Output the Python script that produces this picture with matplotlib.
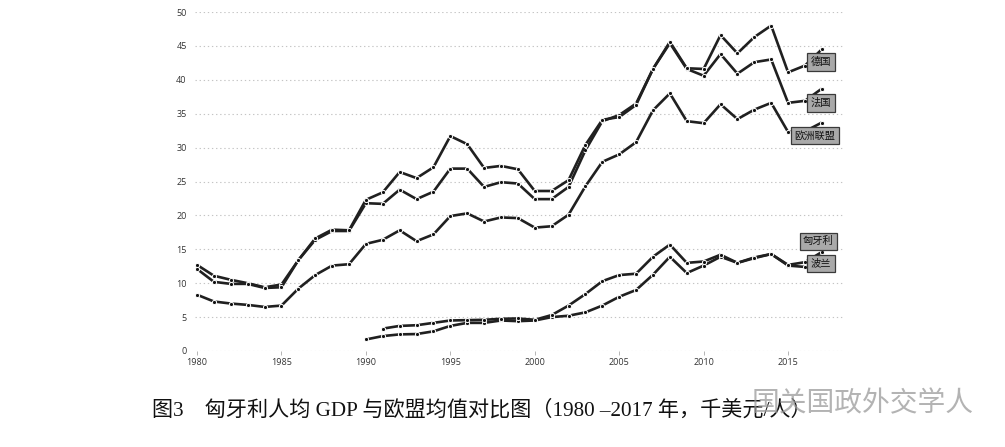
import matplotlib
matplotlib.use('Agg')
import matplotlib.pyplot as plt

# GDP per capita, thousand USD
years = list(range(1980, 2018))
germany = [12.1, 10.2, 9.9, 9.9, 9.3, 9.4, 13.4, 16.6, 17.9, 17.8,
           22.3, 23.4, 26.4, 25.5, 27.1, 31.7, 30.5, 27.0, 27.3, 26.8,
           23.6, 23.6, 25.2, 30.4, 34.1, 34.5, 36.3, 41.6, 45.6, 41.7,
           41.6, 46.6, 43.9, 46.3, 48.0, 41.1, 42.1, 44.5]
france = [12.7, 11.1, 10.5, 10.0, 9.4, 9.8, 13.4, 16.4, 17.7, 17.7,
          21.8, 21.7, 23.8, 22.4, 23.5, 26.9, 26.9, 24.2, 24.9, 24.7,
          22.4, 22.4, 24.2, 29.6, 33.9, 34.8, 36.5, 41.6, 45.4, 41.6,
          40.6, 43.8, 40.9, 42.6, 43.0, 36.6, 36.9, 38.7]
eu = [8.3, 7.3, 7.0, 6.8, 6.5, 6.7, 9.2, 11.2, 12.6, 12.8,
      15.8, 16.4, 17.8, 16.2, 17.2, 19.9, 20.3, 19.1, 19.7, 19.6,
      18.2, 18.4, 20.1, 24.3, 27.9, 29.0, 30.8, 35.5, 38.0, 33.9,
      33.6, 36.4, 34.2, 35.6, 36.6, 32.3, 32.4, 33.7]
hungary_years = list(range(1991, 2018))
hungary = [3.3, 3.7, 3.8, 4.15, 4.5, 4.55, 4.6, 4.75, 4.8,
           4.6, 5.3, 6.7, 8.4, 10.3, 11.2, 11.4, 13.9, 15.7, 13.0,
           13.2, 14.2, 13.0, 13.7, 14.3, 12.7, 13.1, 14.6]
poland_years = list(range(1990, 2018))
poland = [1.7, 2.2, 2.45, 2.5, 2.9, 3.7, 4.15, 4.15, 4.5, 4.4,
          4.5, 5.0, 5.2, 5.7, 6.7, 8.0, 9.0, 11.25, 13.9, 11.5,
          12.6, 13.9, 13.0, 13.8, 14.3, 12.6, 12.4, 13.9]

series = [
    (years, france, '法国'),
    (years, germany, '德国'),
    (years, eu, '欧洲联盟'),
    (poland_years, poland, '波兰'),
    (hungary_years, hungary, '匈牙利'),
]

# label box centres (x year, y value)
label_pos = {
    '德国': (2016.95, 42.6),
    '法国': (2016.95, 36.6),
    '欧洲联盟': (2016.6, 31.8),
    '匈牙利': (2016.8, 16.2),
    '波兰': (2016.95, 12.9),
}

fig = plt.figure(figsize=(10.05, 4.47), dpi=100, facecolor='white')
ax = fig.add_axes([195 / 1005, 96 / 447, 650 / 1005, 339 / 447])
ax.set_xlim(1979.88, 2018.37)
ax.set_ylim(0, 50)

line_color = '#202020'
for xs, ys, name in series:
    ax.plot(xs, ys, color=line_color, linewidth=1.9, marker='o', markersize=3.0,
            markerfacecolor='#111111', markeredgecolor='white', markeredgewidth=0.7,
            clip_on=False, zorder=3, solid_capstyle='butt')

for name, (lx, ly) in label_pos.items():
    ax.text(lx, ly, name, ha='center', va='center', fontsize=7.4, color='#111111',
            family=['Noto Sans CJK SC', 'DejaVu Sans'], zorder=5,
            bbox=dict(boxstyle='square,pad=0.35', facecolor='#a9a9a9',
                      edgecolor='#3a3a3a', linewidth=0.9))

ax.set_yticks(range(0, 51, 5))
ax.set_xticks(range(1980, 2016, 5))
ax.grid(True, axis='y', color='#c4c4c4', linestyle=(0, (1.2, 2.5)), linewidth=0.8)
ax.grid(False, axis='x')
for side in ['top', 'right', 'left', 'bottom']:
    ax.spines[side].set_visible(False)
ax.tick_params(axis='y', length=0, pad=6, labelsize=6.5, labelcolor='#333333')
ax.tick_params(axis='x', length=3, width=0.6, color='#aaaaaa', pad=2,
               labelsize=6.5, labelcolor='#333333')
for lab in ax.get_xticklabels() + ax.get_yticklabels():
    lab.set_family('Open Sans')

fig.text(0.151, 0.083, '图3　匈牙利人均 GDP 与欧盟均值对比图（1980 –2017 年，千美元/人）',
         ha='left', va='center', fontsize=15.2, color='#111111',
         family=['Liberation Serif', 'Noto Sans CJK SC'])

# watermark
fig.text(0.748, 0.098, '国关国政外交学人', ha='left', va='center', fontsize=20,
         color='#9a9a9a', alpha=0.75, family=['Noto Sans CJK SC'])

fig.savefig('out.png', dpi=100, facecolor='white')
